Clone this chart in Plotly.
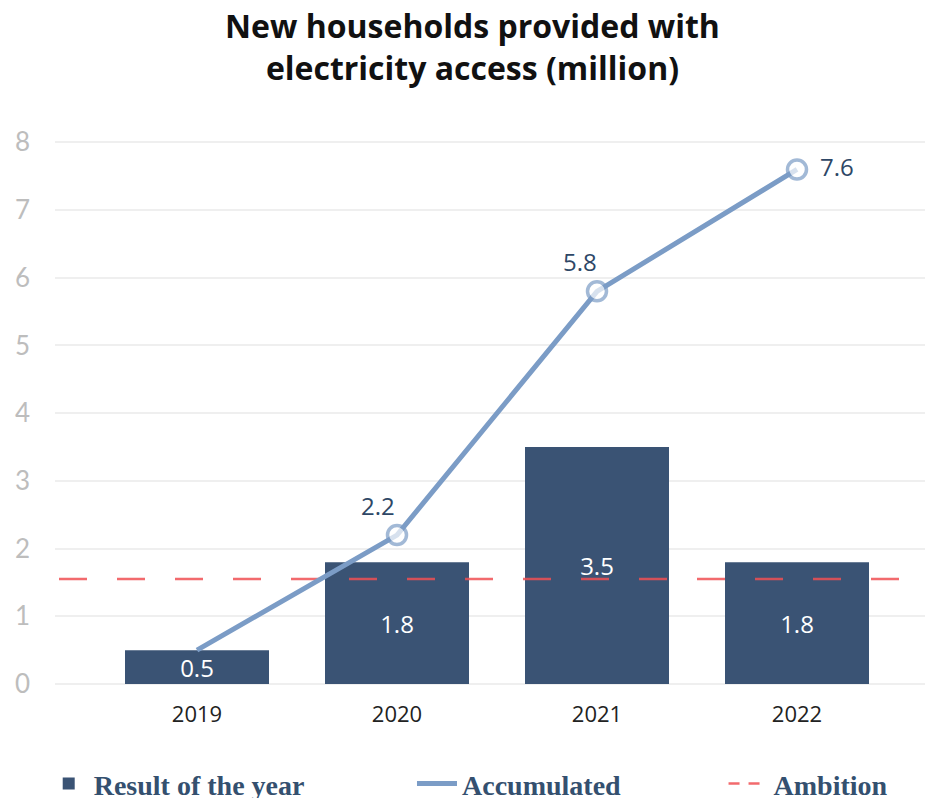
import plotly.graph_objects as go

years = ["2019", "2020", "2021", "2022"]
result_of_year = [0.5, 1.8, 3.5, 1.8]
accumulated = [0.5, 2.2, 5.8, 7.6]
accumulated_labels = ["", "2.2", "5.8", "7.6"]
ambition_level = 1.55
y_ticks = [0, 1, 2, 3, 4, 5, 6, 7, 8]

BAR = "#3a5374"
LINE = "#7b9cc6"
RED = "rgba(240,80,84,0.85)"
x_idx = list(range(len(years)))
x_lo, x_hi = -0.71, 3.64

fig = go.Figure()

fig.add_trace(go.Bar(
    x=x_idx, y=result_of_year, name="<b>Result of the year</b>", legend="legend",
    marker=dict(color=BAR, line=dict(width=0)),
    width=0.72,
    text=[f"{v:.1f}" for v in result_of_year],
    textposition="inside", insidetextanchor="middle", constraintext="none",
    textfont=dict(family="Open Sans", size=24, color="white"),
    hoverinfo="skip",
))

# ambition threshold across the full width
fig.add_trace(go.Scatter(
    x=[x_lo + 0.02, x_hi + 0.03], y=[ambition_level, ambition_level], showlegend=False,
    mode="lines", line=dict(color=RED, width=2.5, dash="28px,30px"),
    cliponaxis=False, hoverinfo="skip",
))

# accumulated series drawn with markers; legend entry shows only the line
fig.add_trace(go.Scatter(
    x=x_idx, y=accumulated, name="Accumulated", showlegend=False,
    mode="lines+markers",
    line=dict(color=LINE, width=5),
    marker=dict(size=[0, 19, 19, 19], color="white", line=dict(color=LINE, width=3.5)),
    cliponaxis=False,
    hoverinfo="skip",
))

# value labels next to accumulated points
label_shift = {1: (-19, 30), 2: (-17, 30), 3: (40, 3)}
for i, txt in enumerate(accumulated_labels):
    if not txt:
        continue
    dx, dy = label_shift[i]
    fig.add_annotation(
        x=x_idx[i], y=accumulated[i], text=txt, showarrow=False,
        xshift=dx, yshift=dy,
        font=dict(family="Open Sans", size=24, color="#2e4766"),
    )

fig.add_trace(go.Scatter(
    x=[None], y=[None], name="<b>Accumulated</b>", legend="legend2",
    mode="lines", line=dict(color=LINE, width=5),
))
fig.add_trace(go.Scatter(
    x=[None], y=[None], name="<b>Ambition</b>", legend="legend3",
    mode="lines", line=dict(color=RED, width=2.5, dash="11px,9px"),
))

legend_font = dict(family="Liberation Serif", size=28, color="#34506f")
legend_common = dict(
    orientation="h", xref="container", yref="container",
    xanchor="left", y=0.049, yanchor="top",
    font=legend_font, itemwidth=40, bgcolor="rgba(0,0,0,0)",
)

fig.update_layout(
    width=930, height=798,
    margin=dict(l=55, r=5, t=141, b=114),
    paper_bgcolor="white", plot_bgcolor="white",
    title=dict(
        text="<b>New households provided with<br>electricity access (million)</b>",
        x=0.508, xanchor="center", y=0.952, yanchor="top",
        font=dict(family="Open Sans", size=32, color="#111111"),
    ),
    xaxis=dict(
        range=[x_lo, x_hi], tickvals=x_idx, ticktext=years,
        showgrid=False, zeroline=False, showline=False,
        tickfont=dict(family="Open Sans", size=22, color="#222222"),
        ticklabelstandoff=15,
    ),
    yaxis=dict(
        range=[0, 8.02], tickvals=y_ticks,
        showgrid=True, gridcolor="#efefef", gridwidth=2,
        zeroline=True, zerolinecolor="#efefef", zerolinewidth=2,
        tickfont=dict(family="Lato", size=26, color="#bdbdbd"),
        ticklabelstandoff=24,
    ),
    showlegend=True,
    legend=dict(x=0.047, **legend_common),
    legend2=dict(x=0.443, **legend_common),
    legend3=dict(x=0.778, **legend_common),
    bargap=0.28,
)

fig.write_html("out.html")
